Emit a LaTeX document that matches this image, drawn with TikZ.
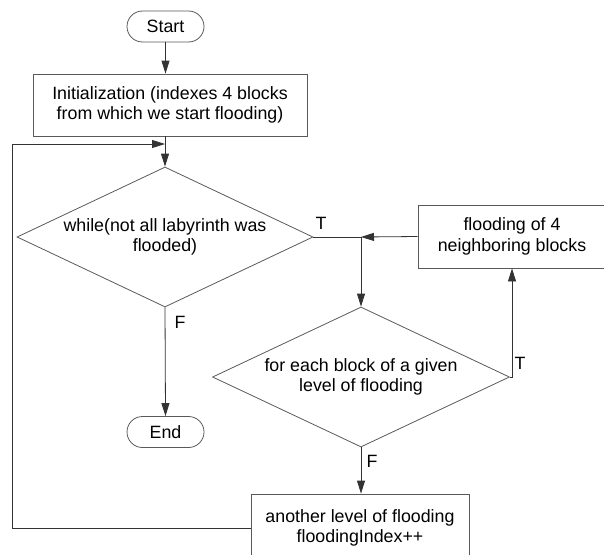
\documentclass[tikz,border=0pt]{standalone}
\usepackage{fontspec}
\setmainfont{Liberation Sans}
\usetikzlibrary{positioning,arrows.meta,shapes.geometric}

\begin{document}
\begin{tikzpicture}[x=1pt, y=-1pt, every node/.style={font=\fontsize{17.8}{20.5}\selectfont},
  box/.style={rectangle, draw=black!65, line width=0.8pt, inner sep=0pt, align=center},
  term/.style={box, rounded corners=15.5pt, minimum width=77pt, minimum height=31pt},
  cond/.style={diamond, draw=black!65, line width=0.8pt, inner sep=0pt},
  arr/.style={-{Triangle[length=13pt,width=8pt]}, line width=0.8pt, draw=black!80},
  lnk/.style={line width=0.8pt, draw=black!80}]
  \useasboundingbox (0,0) rectangle (604,554);
  \clip (0,0) rectangle (604,554);
  % Start and initialization
  \node[term] (start) at (165.5,26.5) {Start};
  \node[box, minimum width=274pt, minimum height=62pt] (init) at (170,105) {Initialization (indexes 4 blocks\\ from which we start flooding)};
  % Outer loop condition
  \node[cond, minimum width=296pt, minimum height=140pt,
    label={[align=center]center:while(not all labyrinth was\\flooded)}] (while) at (165,237) {};
  \node[term] (end) at (165.5,432) {End};
  % Inner loop (right part, cut by the page border)
  \node[box, minimum width=188pt, minimum height=63pt] (flood) at (512,236.5) {flooding of 4\\neighboring blocks};
  \node[cond, minimum width=297pt, minimum height=140pt,
    label={[align=center]center:for each block of a given\\level of flooding}] (each) at (361,377) {};
  \node[box, minimum width=218pt, minimum height=68pt] (next) at (360,528) {another level of flooding\\floodingIndex++};
  % Junction points
  \coordinate (join) at (361,237);
  \coordinate (back) at (12,144);
  % Connectors
  \draw[arr] (start) -- (start |- init.north);
  \draw[arr] (while.north |- init.south) -- (while.north);
  \draw[lnk] (while.east) -- (join);
  \draw[arr] (flood.west) -- (join);
  \draw[arr] (join) -- (each.north);
  \draw[arr] (each.east) -| (flood.south);
  \draw[arr] (while.south) -- (end.north);
  \draw[arr] (each.south) -- (each.south |- next.north);
  \draw[arr] (next.west) -| (back) -- (back -| while.north);
  % Branch labels
  \node (t1) at (321,223) {T};
  \node (t2) at (520,363) {T};
  \node (f1) at (180,322) {F};
  \node (f2) at (372,461) {F};
\end{tikzpicture}
\end{document}
